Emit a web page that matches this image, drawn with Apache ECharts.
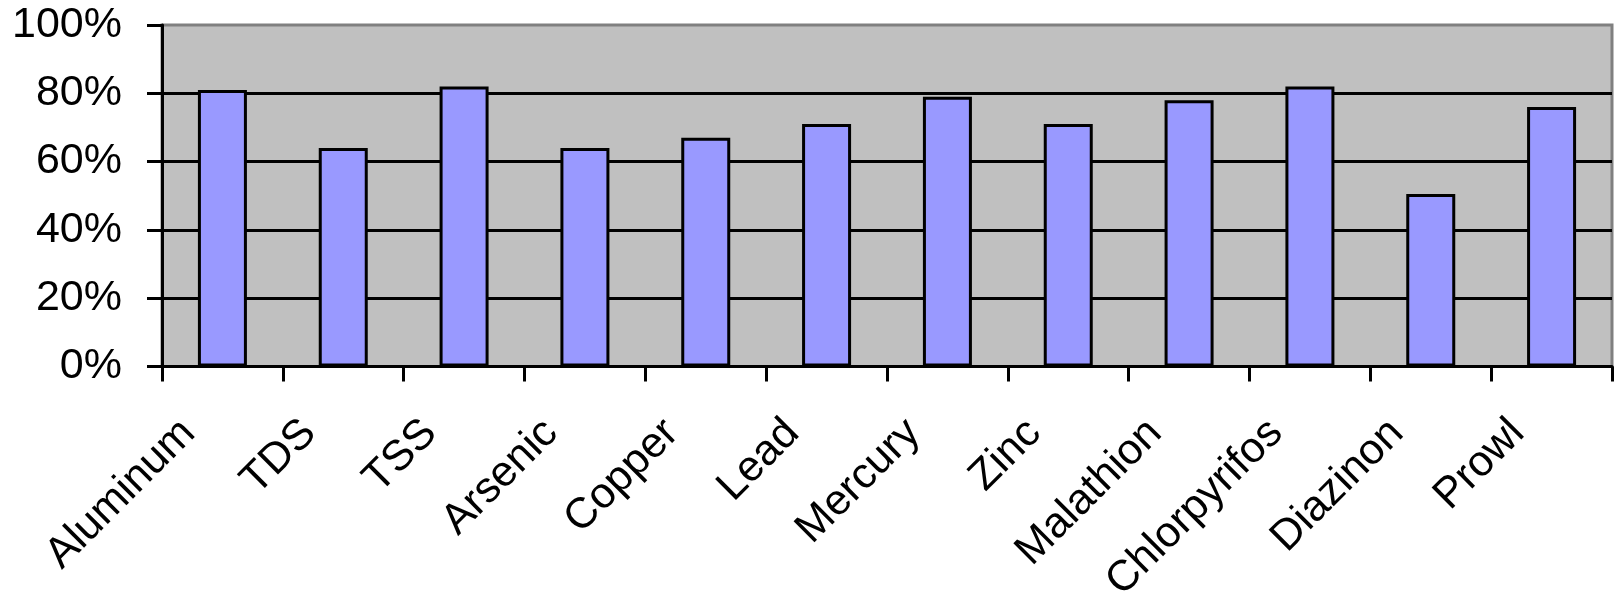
<!DOCTYPE html>
<html>
<head>
<meta charset="utf-8">
<script src="https://cdn.jsdelivr.net/npm/echarts@6/dist/echarts.min.js"></script>
<style>
html,body{margin:0;padding:0;background:#fff;}
#chart{width:1622px;height:606px;}
</style>
</head>
<body>
<div id="chart"></div>
<script>
const categories = ['Aluminum','TDS','TSS','Arsenic','Copper','Lead','Mercury','Zinc','Malathion','Chlorpyrifos','Diazinon','Prowl'];
const values = [81, 64, 82, 64, 67, 71, 79, 71, 78, 82, 50.5, 76];
const yTicks = [0, 20, 40, 60, 80, 100];

const chart = echarts.init(document.getElementById('chart'), null, {renderer: 'canvas'});
const font = 'Liberation Sans, Arial, sans-serif';
chart.setOption({
  animation: false,
  backgroundColor: '#ffffff',
  grid: {
    left: 162, right: 10, top: 25, bottom: 236,
    show: true, backgroundColor: '#C0C0C0', borderColor: '#808080', borderWidth: 3
  },
  xAxis: {
    type: 'category',
    data: categories,
    boundaryGap: true,
    axisLine: {show: true, lineStyle: {color: '#000', width: 3}},
    axisTick: {show: true, length: 15, lineStyle: {color: '#000', width: 3}},
    axisLabel: {
      interval: 0, rotate: 45, margin: 26,
      fontFamily: font, fontSize: 43, color: '#000',
      align: 'right', padding: [0, 48, 0, 0]
    },
    splitLine: {show: false}
  },
  yAxis: {
    type: 'value',
    min: yTicks[0], max: yTicks[yTicks.length - 1], interval: 20,
    axisLine: {show: true, lineStyle: {color: '#000', width: 3}},
    axisTick: {show: true, length: 15, lineStyle: {color: '#000', width: 3}},
    axisLabel: {
      margin: 40, fontFamily: font, fontSize: 43, color: '#000',
      formatter: '{value}%'
    },
    splitLine: {show: true, showMaxLine: false, lineStyle: {color: '#000', width: 3}}
  },
  series: [{
    type: 'bar',
    data: values,
    barWidth: 49,
    itemStyle: {color: '#9999FF', borderColor: '#000', borderWidth: 3}
  }]
});
</script>
</body>
</html>
